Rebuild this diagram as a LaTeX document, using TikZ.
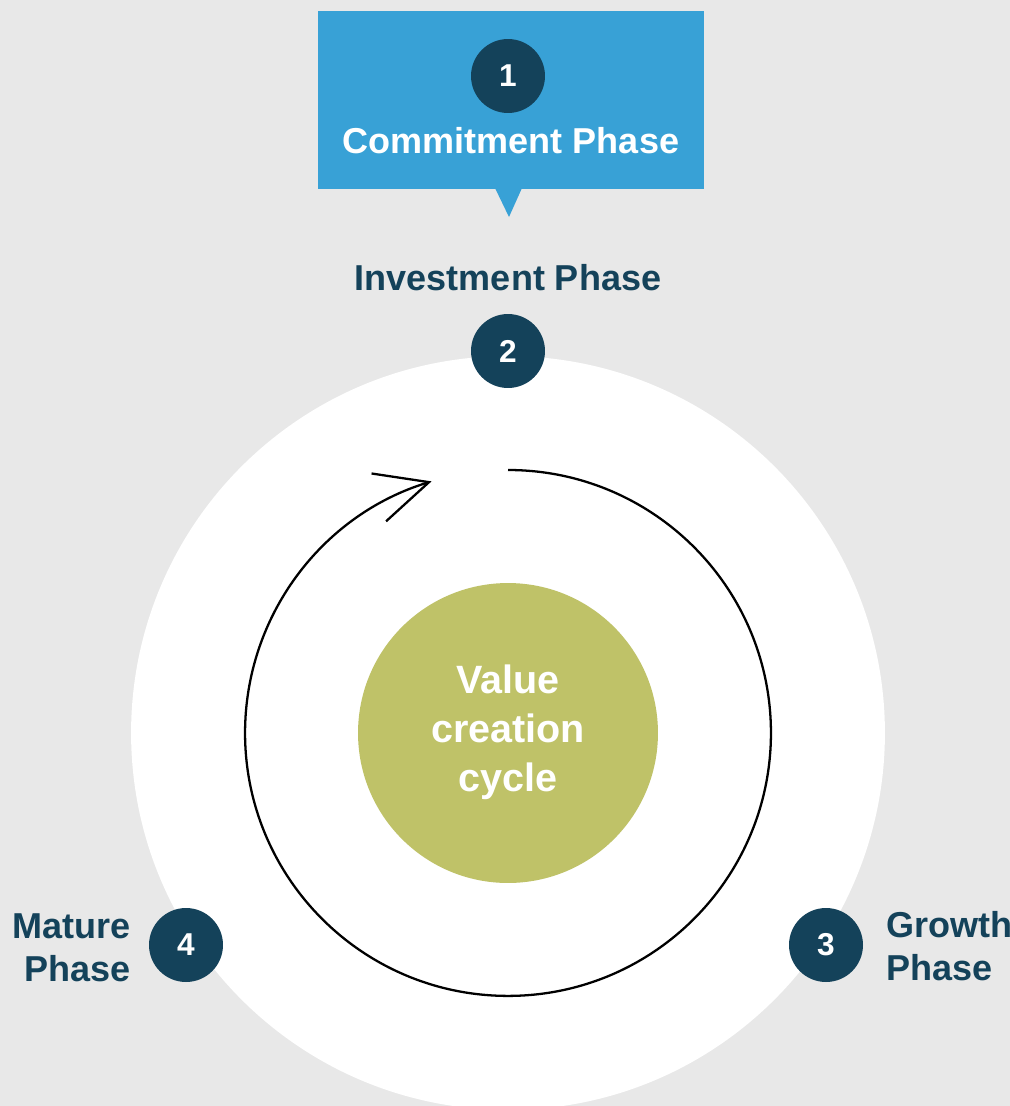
\documentclass[tikz,border=0pt]{standalone}
\usepackage{fontspec}
\setmainfont{Liberation Sans}
\usetikzlibrary{arrows.meta}
\definecolor{bgGrey}{HTML}{E8E8E8}
\definecolor{phaseBlue}{HTML}{38A1D6}
\definecolor{phaseDark}{HTML}{14425A}
\definecolor{cycleGreen}{HTML}{BFC268}
\begin{document}
\begin{tikzpicture}[x=0.02cm,y=-0.02cm,
        num/.style={circle,fill=phaseDark,text=white,minimum size=1.48cm,inner sep=0pt,font=\fontsize{18}{20}\selectfont\bfseries},
        phase/.style={text=phaseDark,inner sep=0pt,font=\fontsize{20.5}{24.4}\selectfont\bfseries}]
        \fill[bgGrey] (0,0) rectangle (1010,1106);
        \clip (0,0) rectangle (1010,1106);
        \fill[white] (508,733) circle (7.54cm);
        \fill[phaseBlue] (318,11) rectangle (704,189);
        \fill[phaseBlue] (495,188) -- (522,188) -- (509,217) -- cycle;
        \node[num] (n1) at (508,76) {1};
        \node[phase,text=white] (commit) at (511,141) {Commitment Phase};
        \node[phase] (invest) at (508,278) {Investment Phase};
        \node[num] (n2) at (508,351) {2};
        \node[circle,fill=cycleGreen,minimum size=6cm,inner sep=0pt] (cyc) at (508,733) {};
        \node[text=white,align=center,inner sep=0pt,font=\fontsize{22.5}{27.8}\selectfont\bfseries] (cyctext) at (508,732) {Value\\creation\\cycle};
        \coordinate (arcstart) at (508,470);
        \draw[line width=1.3pt,-{Straight Barb[length=1.05cm,width=1.0cm,line width=1.3pt]}] (arcstart) arc[start angle=90,end angle=-253.1,radius=5.26cm];
        \node[num] (n4) at (186,945) {4};
        \node[phase,align=right,anchor=east] (mature) at (131,948) {Mature\\Phase};
        \node[num] (n3) at (826,945) {3};
        \node[phase,align=left,anchor=west] (growth) at (886,946) {Growth\\Phase};
    \end{tikzpicture}
\end{document}
